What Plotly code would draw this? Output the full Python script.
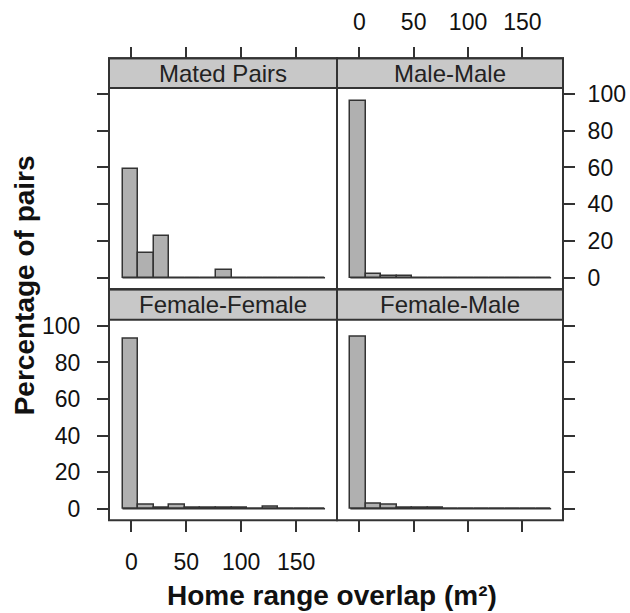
import plotly.graph_objects as go

# ---- data ----
panels = ["Mated Pairs", "Male-Male", "Female-Female", "Female-Male"]
bin_start = -8.2
bin_width = 14.2
n_bins = 13
mated_pairs = [59.1, 13.6, 22.7, 0, 0, 0, 4.5, 0, 0, 0, 0, 0, 0]
male_male = [96.4, 2.1, 0.7, 0.7, 0, 0, 0, 0, 0, 0, 0, 0, 0]
female_female = [92.8, 1.9, 0.5, 1.9, 0.5, 0.5, 0.5, 0.5, 0, 1.0, 0, 0, 0]
female_male = [93.9, 2.7, 1.9, 0.5, 0.5, 0.5, 0, 0, 0, 0, 0, 0, 0]
x_ticks = [0, 50, 100, 150]
y_ticks = [0, 20, 40, 60, 80, 100]
x_title = "Home range overlap (m²)"
y_title = "Percentage of pairs"

series = [mated_pairs, male_male, female_female, female_male]
edges = [bin_start + i * bin_width for i in range(n_bins + 1)]
centers = [(edges[i] + edges[i + 1]) / 2 for i in range(n_bins)]

W, H = 630, 613
def px_x(p): return p / W
def px_y(p): return 1 - p / H

col_dom = [[px_x(109), px_x(337)], [px_x(337), px_x(563)]]
row_plot = [[px_y(286), px_y(82)], [px_y(520), px_y(317)]]
row_strip = [[px_y(82), px_y(52)], [px_y(317), px_y(286)]]

XR = [-20.5, 187.3]
YR = [-6.3, 103.3]
DARK = "#333333"
BAR = "#b0b0b0"
STRIP = "#c8c8c8"
FONT = "Liberation Sans, Arial, sans-serif"

fig = go.Figure()
for i, vals in enumerate(series):
    ax = "" if i == 0 else str(i + 1)
    fig.add_trace(go.Scatter(x=[edges[0], edges[-1]], y=[0, 0], mode="lines",
                             line=dict(color=DARK, width=1.5), xaxis="x" + ax, yaxis="y" + ax,
                             showlegend=False, hoverinfo="skip"))
    fig.add_trace(go.Bar(x=centers, y=vals, width=bin_width,
                         marker=dict(color=BAR, line=dict(color=DARK, width=1.5)),
                         xaxis="x" + ax, yaxis="y" + ax, showlegend=False))

tickfont = dict(family=FONT, size=23, color="#111111")
common_x = dict(range=XR, tickvals=x_ticks, ticks="outside", ticklen=11, tickwidth=1.5,
                tickcolor=DARK, showgrid=False, zeroline=False, showline=False, tickfont=tickfont)
common_y = dict(range=YR, tickvals=y_ticks, ticks="outside", ticklen=11, tickwidth=1.5,
                tickcolor=DARK, showgrid=False, zeroline=False, showline=False, tickfont=tickfont)

layout = dict(
    width=W, height=H, margin=dict(l=0, r=0, t=0, b=0),
    paper_bgcolor="white", plot_bgcolor="rgba(0,0,0,0)", bargap=0,
    font=dict(family=FONT),
    xaxis=dict(common_x, domain=col_dom[0], anchor="free", position=row_strip[0][1], side="top",
               showticklabels=False),
    xaxis2=dict(common_x, domain=col_dom[1], anchor="free", position=row_strip[0][1], side="top",
                showticklabels=True, ticklabelstandoff=8),
    xaxis3=dict(common_x, domain=col_dom[0], anchor="y3", side="bottom", showticklabels=True,
                ticklabelstandoff=10),
    xaxis4=dict(common_x, domain=col_dom[1], anchor="y4", side="bottom", showticklabels=False),
    yaxis=dict(common_y, domain=row_plot[0], anchor="x", side="left", showticklabels=False),
    yaxis2=dict(common_y, domain=row_plot[0], anchor="x2", side="right", showticklabels=True,
                ticklabelstandoff=8),
    yaxis3=dict(common_y, domain=row_plot[1], anchor="x3", side="left", showticklabels=True,
                ticklabelstandoff=12),
    yaxis4=dict(common_y, domain=row_plot[1], anchor="x4", side="right", showticklabels=False),
)
fig.update_layout(**layout)

shapes = []
annotations = []
for i, name in enumerate(panels):
    r, c = divmod(i, 2)
    x0, x1 = col_dom[c]
    sy0, sy1 = row_strip[r]
    py0, py1 = row_plot[r]
    shapes.append(dict(type="rect", xref="paper", yref="paper", x0=x0, x1=x1, y0=sy0, y1=sy1,
                       fillcolor=STRIP, line=dict(color=DARK, width=2), layer="below"))
    shapes.append(dict(type="rect", xref="paper", yref="paper", x0=x0, x1=x1, y0=py0, y1=sy1,
                       fillcolor="rgba(0,0,0,0)", line=dict(color=DARK, width=2)))
    annotations.append(dict(text=name, xref="paper", yref="paper", x=(x0 + x1) / 2,
                            y=(sy0 + sy1) / 2, showarrow=False, xanchor="center", yanchor="middle",
                            font=dict(family=FONT, size=24, color="#222222")))

annotations.append(dict(text="<b>" + x_title + "</b>", xref="paper", yref="paper",
                        x=px_x(332), y=px_y(596), showarrow=False, xanchor="center",
                        yanchor="middle", font=dict(family=FONT, size=28, color="#111111")))
annotations.append(dict(text="<b>" + y_title + "</b>", xref="paper", yref="paper",
                        x=px_x(24), y=px_y(282), showarrow=False, xanchor="center",
                        yanchor="middle", textangle=-90,
                        font=dict(family=FONT, size=28, color="#111111")))
fig.update_layout(shapes=shapes, annotations=annotations)

fig.write_html("out.html", config={"displayModeBar": False},
               post_script="document.body.style.margin='0';document.body.style.overflow='hidden';")
